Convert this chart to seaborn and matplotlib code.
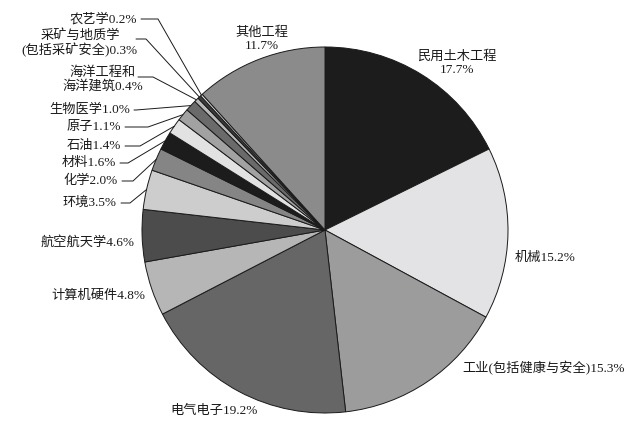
import numpy as np
import matplotlib
matplotlib.use("Agg")
import matplotlib.pyplot as plt
import seaborn as sns

# ---- data ----
fields = ["民用土木工程", "机械", "工业(包括健康与安全)", "电气电子", "计算机硬件",
          "航空航天学", "环境", "化学", "材料", "石油", "原子", "生物医学",
          "海洋工程和海洋建筑", "采矿与地质学(包括采矿安全)", "农艺学", "其他工程"]
shares = [17.7, 15.2, 15.3, 19.2, 4.8, 4.6, 3.5, 2.0, 1.6, 1.4, 1.1, 1.0,
          0.4, 0.3, 0.2, 11.7]
label_text = ["民用土木工程\n17.7%", "机械15.2%", "工业(包括健康与安全)15.3%",
              "电气电子19.2%", "计算机硬件4.8%", "航空航天学4.6%", "环境3.5%",
              "化学2.0%", "材料1.6%", "石油1.4%", "原子1.1%", "生物医学1.0%",
              "海洋工程和\n海洋建筑0.4%", "采矿与地质学\n(包括采矿安全)0.3%",
              "农艺学0.2%", "其他工程\n11.7%"]
greys = ["#1c1c1c", "#e3e3e5", "#9c9c9c", "#666666", "#b6b6b6", "#4c4c4c",
         "#cdcdcd", "#858585", "#1c1c1c", "#e2e2e2", "#a2a2a2", "#6a6a6a",
         "#b8b8b8", "#3a3a3a", "#d8d8d8", "#8b8b8b"]

# ---- layout (image pixel coords, y from top) ----
W, H = 640, 432
CX, CY, R = 325, 230, 183
# text x, text y, ha
label_pos = [
    (457, 63, "center"), (515, 258, "left"), (462, 368, "left"),
    (170, 411, "left"), (145, 296, "right"), (135, 242, "right"),
    (117, 203, "right"), (118, 181, "right"), (116, 163, "right"),
    (121, 146, "right"), (121, 127, "right"), (130, 110, "right"),
    (143, 80, "right"), (138, 43, "right"), (137, 19, "right"),
    (262, 39, "center"),
]
# leader start x, start y, elbow x (None = no leader)
leaders = [None, None, None, None, None, None,
           (121, 203, 130), (122, 181, 133), (120, 163, 128),
           (125, 146, 140), (125, 127, 148), (134, 110, 136),
           (138, 77, 153), (136, 39, 146), (141, 19, 158), None]

sns.set_theme(style="white")
plt.rcParams["font.family"] = ["Liberation Serif", "Noto Sans CJK SC", "DejaVu Sans"]

fig = plt.figure(figsize=(W / 100, H / 100), dpi=100)
ax = fig.add_axes([0, 0, 1, 1])

wedges, _ = ax.pie(shares, colors=greys, startangle=90, counterclock=False,
                   center=(CX, H - CY), radius=R,
                   wedgeprops=dict(edgecolor="#1a1a1a", linewidth=0.7))
ax.set_xlim(0, W)
ax.set_ylim(0, H)
ax.set_aspect("equal")
ax.axis("off")

for w, txt, (x, y, ha), ld in zip(wedges, label_text, label_pos, leaders):
    ax.text(x, H - y, txt, ha=ha, va="center", fontsize=9.5, color="#1a1a1a",
            multialignment="center", linespacing=1.1)
    if ld is None:
        continue
    # leader: short horizontal from text, then to the wedge rim at mid-angle
    xs, ys, elbow = ld
    ang = np.deg2rad((w.theta1 + w.theta2) / 2)
    rx = CX + R * np.cos(ang)
    ry = (H - CY) + R * np.sin(ang)
    ax.plot([xs, elbow, rx], [H - ys, H - ys, ry], color="#1a1a1a", lw=0.7)

fig.savefig("out.png", dpi=100, facecolor="white")
